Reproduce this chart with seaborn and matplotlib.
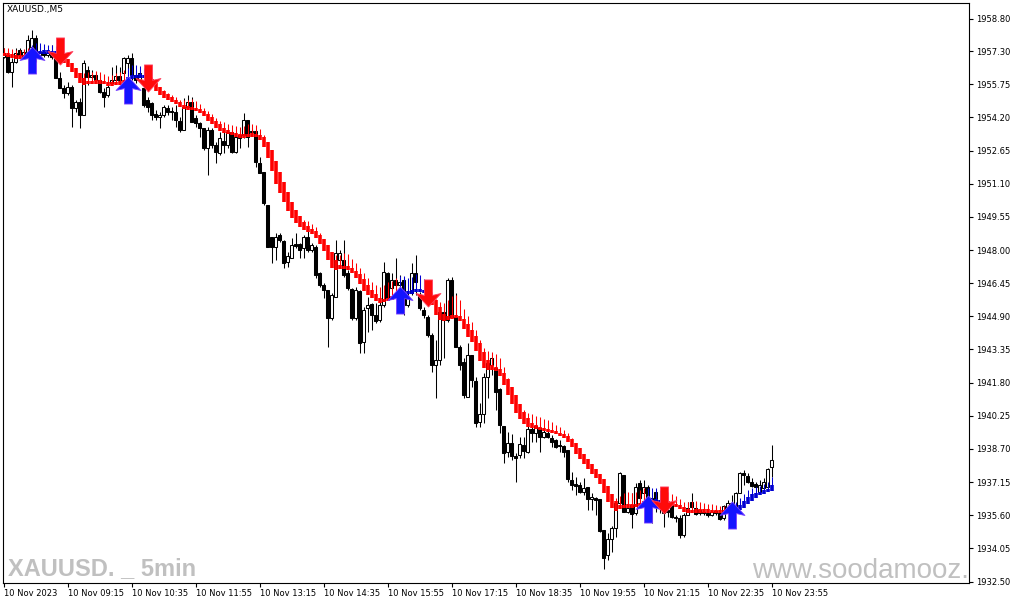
import numpy as np
import pandas as pd
import matplotlib
matplotlib.use('Agg')
import matplotlib.pyplot as plt
import seaborn as sns
from matplotlib.path import Path
from matplotlib.markers import MarkerStyle


# XAUUSD M5 candles, 07:55 .. 23:55 (one value per bar)
opens = [
    1957.02, 1957.12, 1956.32, 1956.79, 1957.35, 1957.02, 1957.26, 1957.49, 1957.91, 1957.12,
    1957.26, 1957.12, 1957.21, 1957.02, 1956.04, 1955.57, 1955.34, 1955.62, 1954.64, 1954.92,
    1954.31, 1956.42, 1956.09, 1956.18, 1955.95, 1955.39, 1955.25, 1955.81, 1955.95, 1956.14,
    1956.28, 1956.74, 1956.98, 1956.18, 1955.95, 1955.57, 1955.01, 1954.87, 1954.36, 1954.22,
    1954.31, 1954.64, 1954.50, 1954.45, 1954.03, 1953.61, 1954.69, 1954.92, 1954.17, 1953.94,
    1953.70, 1952.77, 1953.61, 1952.91, 1952.54, 1953.10, 1952.91, 1953.52, 1952.58, 1953.24,
    1953.38, 1954.08, 1953.52, 1953.57, 1952.07, 1951.65, 1950.10, 1948.61, 1948.14, 1948.70,
    1948.42, 1947.44, 1947.63, 1948.28, 1948.28, 1948.09, 1948.61, 1948.00, 1948.14, 1946.93,
    1946.36, 1946.13, 1944.82, 1945.80, 1947.53, 1947.53, 1946.93, 1946.18, 1944.82, 1946.08,
    1943.70, 1945.29, 1945.48, 1944.96, 1944.73, 1945.43, 1946.93, 1946.22, 1946.60, 1946.36,
    1946.60, 1945.43, 1945.99, 1946.93, 1945.90, 1945.20, 1944.87, 1944.03, 1942.62, 1942.86,
    1945.10, 1944.73, 1946.60, 1944.87, 1943.47, 1942.76, 1941.13, 1943.09, 1941.88, 1939.96,
    1940.33, 1942.06, 1942.62, 1942.48, 1941.50, 1939.77, 1938.56, 1938.98, 1938.37, 1938.42,
    1938.88, 1938.56, 1939.63, 1939.44, 1939.68, 1939.26, 1939.44, 1939.21, 1939.12, 1938.88,
    1938.84, 1938.65, 1937.25, 1937.06, 1937.01, 1936.69, 1936.92, 1936.36, 1936.41, 1936.36,
    1934.91, 1933.74, 1934.49, 1935.00, 1936.17, 1937.48, 1935.75, 1936.08, 1935.70, 1937.11,
    1936.64, 1936.92, 1936.08, 1936.69, 1935.99, 1935.70, 1935.85, 1936.22, 1935.52, 1935.47,
    1934.68, 1935.61, 1936.22, 1935.94, 1935.85, 1935.75, 1935.70, 1935.61, 1935.80, 1935.70,
    1935.47, 1935.99, 1936.17, 1935.99, 1936.64, 1937.58, 1937.44, 1937.15, 1937.06, 1936.69,
    1936.87, 1936.92, 1937.86]
highs = [
    1957.44, 1957.35, 1956.98, 1957.44, 1957.44, 1957.35, 1958.05, 1958.29, 1958.05, 1957.49,
    1957.35, 1957.35, 1957.58, 1957.12, 1956.32, 1955.71, 1955.85, 1955.71, 1955.01, 1955.11,
    1956.88, 1956.60, 1956.42, 1956.32, 1956.18, 1955.57, 1955.85, 1956.56, 1956.65, 1956.56,
    1957.02, 1957.12, 1957.21, 1956.42, 1956.42, 1955.71, 1955.15, 1954.92, 1954.55, 1954.45,
    1954.78, 1954.78, 1954.69, 1954.78, 1954.22, 1955.11, 1955.25, 1955.15, 1954.31, 1953.98,
    1953.70, 1953.75, 1953.70, 1953.05, 1953.52, 1953.52, 1953.70, 1953.61, 1953.47, 1953.52,
    1954.41, 1954.08, 1953.70, 1953.57, 1952.35, 1951.65, 1950.10, 1948.61, 1948.80, 1948.80,
    1948.47, 1947.91, 1948.56, 1948.80, 1948.33, 1948.70, 1949.17, 1948.33, 1948.23, 1946.97,
    1946.46, 1946.13, 1945.99, 1948.47, 1948.00, 1948.47, 1947.07, 1946.22, 1946.27, 1946.13,
    1945.34, 1945.80, 1945.52, 1945.52, 1945.90, 1947.44, 1946.97, 1946.93, 1947.63, 1946.83,
    1946.74, 1946.13, 1947.39, 1947.77, 1946.04, 1945.34, 1944.96, 1944.12, 1943.79, 1945.43,
    1945.43, 1946.69, 1946.74, 1945.99, 1943.56, 1942.95, 1943.65, 1943.09, 1942.06, 1940.85,
    1942.25, 1942.72, 1943.00, 1942.62, 1941.55, 1939.77, 1939.49, 1939.40, 1938.51, 1939.26,
    1939.26, 1940.05, 1939.77, 1939.87, 1939.91, 1939.63, 1939.73, 1939.35, 1939.17, 1939.12,
    1938.88, 1938.65, 1937.62, 1937.39, 1937.15, 1937.34, 1936.92, 1936.64, 1936.45, 1936.36,
    1934.91, 1934.77, 1935.10, 1936.22, 1937.62, 1937.48, 1936.31, 1936.64, 1937.11, 1937.25,
    1937.25, 1937.01, 1936.69, 1936.78, 1936.31, 1936.78, 1935.99, 1936.41, 1935.61, 1935.61,
    1935.70, 1936.22, 1936.64, 1936.17, 1935.99, 1935.94, 1935.94, 1935.94, 1935.94, 1935.75,
    1936.08, 1936.31, 1936.55, 1936.69, 1937.62, 1937.72, 1937.58, 1937.34, 1937.15, 1937.25,
    1937.34, 1937.81, 1938.88]
lows = [
    1956.98, 1956.28, 1955.62, 1956.74, 1957.02, 1956.98, 1957.12, 1957.44, 1956.79, 1957.02,
    1957.02, 1957.02, 1956.93, 1956.04, 1955.57, 1955.11, 1955.25, 1953.75, 1954.45, 1953.70,
    1954.31, 1955.71, 1955.95, 1955.85, 1955.34, 1954.69, 1955.15, 1955.71, 1955.81, 1955.81,
    1956.18, 1955.95, 1955.95, 1955.81, 1955.85, 1954.69, 1954.45, 1954.08, 1954.08, 1953.70,
    1954.22, 1954.31, 1954.08, 1953.75, 1953.52, 1953.61, 1954.64, 1953.98, 1953.75, 1953.28,
    1952.68, 1951.51, 1952.77, 1952.07, 1952.44, 1952.54, 1952.77, 1952.54, 1952.54, 1952.77,
    1953.24, 1952.82, 1953.38, 1951.88, 1951.60, 1950.10, 1948.14, 1947.39, 1947.53, 1948.37,
    1947.16, 1947.21, 1947.63, 1948.09, 1947.63, 1947.63, 1947.91, 1947.91, 1946.69, 1946.27,
    1945.76, 1943.47, 1944.73, 1945.80, 1947.44, 1946.74, 1946.13, 1944.73, 1944.73, 1943.19,
    1943.19, 1944.17, 1944.26, 1944.59, 1944.63, 1945.34, 1945.66, 1946.13, 1946.13, 1945.90,
    1944.96, 1945.34, 1945.90, 1945.90, 1945.20, 1944.82, 1943.93, 1942.30, 1941.08, 1942.62,
    1942.95, 1944.63, 1944.87, 1943.47, 1942.39, 1941.08, 1941.13, 1941.60, 1939.73, 1939.73,
    1939.91, 1941.08, 1942.16, 1940.52, 1939.44, 1938.04, 1938.32, 1938.18, 1937.15, 1938.28,
    1938.28, 1938.51, 1939.02, 1939.02, 1938.56, 1939.21, 1939.21, 1938.79, 1938.74, 1938.56,
    1938.32, 1937.15, 1936.78, 1936.55, 1936.64, 1936.55, 1935.85, 1935.85, 1935.61, 1934.82,
    1933.09, 1933.51, 1933.88, 1934.58, 1936.08, 1935.75, 1935.70, 1935.00, 1935.61, 1935.99,
    1935.99, 1935.85, 1935.24, 1935.75, 1935.70, 1935.05, 1935.52, 1935.47, 1935.28, 1934.54,
    1934.58, 1935.61, 1935.94, 1935.61, 1935.61, 1935.61, 1935.52, 1935.57, 1935.61, 1935.38,
    1935.38, 1935.85, 1935.85, 1935.94, 1936.64, 1937.01, 1937.11, 1936.92, 1936.87, 1936.64,
    1936.64, 1936.92, 1937.39]
closes = [
    1957.21, 1956.32, 1956.79, 1957.21, 1957.12, 1957.26, 1957.82, 1957.91, 1957.12, 1957.26,
    1957.12, 1957.21, 1957.02, 1956.04, 1955.57, 1955.34, 1955.62, 1954.64, 1954.92, 1954.31,
    1956.74, 1956.09, 1956.18, 1955.95, 1955.39, 1955.15, 1955.62, 1955.95, 1956.14, 1955.95,
    1956.98, 1956.98, 1956.18, 1955.95, 1956.28, 1954.78, 1954.69, 1954.31, 1954.22, 1954.31,
    1954.69, 1954.45, 1954.45, 1954.08, 1953.61, 1954.69, 1954.92, 1953.98, 1953.94, 1953.70,
    1952.77, 1953.61, 1952.91, 1952.58, 1953.24, 1952.91, 1953.52, 1952.58, 1953.28, 1953.38,
    1954.08, 1953.28, 1953.57, 1952.11, 1951.60, 1950.20, 1948.14, 1948.14, 1948.61, 1948.47,
    1947.39, 1947.72, 1948.23, 1948.19, 1948.00, 1948.61, 1948.00, 1948.23, 1946.83, 1946.36,
    1946.13, 1944.82, 1945.90, 1947.86, 1947.86, 1946.83, 1946.22, 1944.82, 1946.13, 1943.65,
    1945.20, 1945.43, 1944.96, 1944.68, 1945.43, 1946.97, 1945.76, 1946.60, 1946.36, 1946.50,
    1945.43, 1945.80, 1946.93, 1946.50, 1945.29, 1944.96, 1944.03, 1942.62, 1942.86, 1945.10,
    1944.73, 1946.60, 1944.87, 1943.47, 1942.62, 1941.22, 1943.09, 1941.92, 1939.91, 1940.33,
    1942.06, 1942.72, 1942.95, 1941.36, 1939.82, 1938.51, 1938.98, 1938.37, 1938.28, 1938.93,
    1938.60, 1939.63, 1939.44, 1939.77, 1939.26, 1939.49, 1939.26, 1939.02, 1938.79, 1938.84,
    1938.56, 1937.30, 1937.01, 1936.97, 1936.69, 1936.87, 1936.36, 1936.45, 1936.31, 1934.86,
    1933.60, 1934.49, 1935.00, 1936.17, 1937.58, 1935.75, 1935.94, 1935.66, 1936.92, 1936.41,
    1936.92, 1936.08, 1936.41, 1935.99, 1936.17, 1935.85, 1935.75, 1935.52, 1935.47, 1934.68,
    1935.61, 1935.94, 1935.99, 1935.66, 1935.70, 1935.70, 1935.61, 1935.75, 1935.70, 1935.43,
    1936.03, 1936.17, 1935.99, 1936.64, 1937.58, 1937.48, 1937.15, 1936.97, 1936.92, 1937.01,
    1937.15, 1937.76, 1938.18]

# signal arrows: bar index and price at the arrow centre
up_bars = [7, 31, 99, 161, 182]
up_prices = [1956.88, 1955.48, 1945.64, 1935.87, 1935.59]
down_bars = [14, 36, 106, 165]
down_prices = [1957.30, 1956.02, 1946.01, 1936.31]

x_tick_bars = [0, 16, 32, 48, 64, 80, 96, 112, 128, 144, 160, 176, 192]
x_tick_labels = ['10 Nov 2023', '10 Nov 09:15', '10 Nov 10:35', '10 Nov 11:55',
                 '10 Nov 13:15', '10 Nov 14:35', '10 Nov 15:55', '10 Nov 17:15',
                 '10 Nov 18:35', '10 Nov 19:55', '10 Nov 21:15', '10 Nov 22:35',
                 '10 Nov 23:55']
y_ticks = [1932.50, 1934.05, 1935.60, 1937.15, 1938.70, 1940.25, 1941.80, 1943.35,
           1944.90, 1946.45, 1948.00, 1949.55, 1951.10, 1952.65, 1954.20, 1955.75,
           1957.30, 1958.80]

o = np.array(opens)
h = np.array(highs)
l = np.array(lows)
c = np.array(closes)
n = len(c)
bars = np.arange(n)
h = np.maximum(h, np.maximum(o, c))
l = np.minimum(l, np.minimum(o, c))


# Heiken Ashi Smoothed (SMMA 6, then LWMA 2)
def smma(v, period):
    return pd.Series(v).ewm(alpha=1.0 / period, adjust=False).mean().to_numpy()


def lwma2(v):
    out = v.copy()
    out[1:] = (2 * v[1:] + v[:-1]) / 3
    return out


ma_o, ma_h, ma_l, ma_c = (smma(v, 6) for v in (o, h, l, c))
ha_c = (ma_o + ma_h + ma_l + ma_c) / 4
ha_o = np.empty(n)
ha_o[0] = (ma_o[0] + ma_c[0]) / 2
for i in range(1, n):
    ha_o[i] = (ha_o[i - 1] + ha_c[i - 1]) / 2
ha_h = np.maximum(ma_h, np.maximum(ha_o, ha_c))
ha_o2, ha_c2, ha_h2 = lwma2(ha_o), lwma2(ha_c), lwma2(ha_h)

body_top = np.maximum(ha_o2, ha_c2)
body_bot = np.minimum(ha_o2, ha_c2)
mid = (body_top + body_bot) / 2
small = (body_top - body_bot) < 0.16
body_top = np.where(small, mid + 0.08, body_top)
body_bot = np.where(small, mid - 0.08, body_bot)
wick_top = np.maximum(ha_h2, body_top)

# trend colour follows the signal arrows (blue after a buy arrow, red after a sell arrow)
trend_up = np.zeros(n, dtype=bool)
for b in up_bars:
    nxt = [d for d in down_bars if d > b]
    trend_up[b:nxt[0] if nxt else n] = True
ind_col = np.where(trend_up, '#0000d2', '#ff0000')

sns.set_theme(style='white')
plt.rcParams['font.family'] = ['DejaVu Sans']

fig = plt.figure(figsize=(10.15, 6.05), dpi=100)
ax = fig.add_axes([3 / 1015, 22 / 605, 966 / 1015, 580 / 605])
ax.set_facecolor('white')

# candles
ax.vlines(bars, l, h, colors='black', linewidth=0.75, zorder=2)
body_fill = np.where(c >= o, 'white', 'black')
ax.bar(bars, np.abs(c - o), bottom=np.minimum(o, c), width=0.55, color=body_fill,
       edgecolor='black', linewidth=0.75, zorder=3)

# indicator
ax.vlines(bars, body_top, wick_top, colors=ind_col, linewidth=0.75, zorder=4,
          capstyle='butt')
ax.vlines(bars, body_bot, body_top, colors=ind_col, linewidth=2.6, zorder=5,
          capstyle='butt')

# arrows
up_path = Path([(0, 0.5), (0.46, 0.0), (0.15, 0.07), (0.15, -0.5), (-0.15, -0.5),
                (-0.15, 0.07), (-0.46, 0.0), (0, 0.5)], closed=True)
down_path = Path([(x, -y) for x, y in up_path.vertices], closed=True)
sns.scatterplot(x=up_bars, y=up_prices, marker=MarkerStyle(up_path), s=380,
                color='#1414ff', edgecolor='#7a40ff', linewidth=0.6, ax=ax,
                zorder=7, legend=False)
sns.scatterplot(x=down_bars, y=down_prices, marker=MarkerStyle(down_path), s=380,
                color='#ff0a0a', edgecolor='#ff4060', linewidth=0.6, ax=ax,
                zorder=7, legend=False)

ax.set_xlim(-0.125, 241.375)
ax.set_ylim(1932.433, 1959.548)
ax.set_xlabel('')
ax.set_ylabel('')

ax.set_xticks(x_tick_bars, x_tick_labels, ha='left')
ax.yaxis.tick_right()
ax.set_yticks(y_ticks, [f'{v:.2f}' for v in y_ticks])
ax.tick_params(axis='x', bottom=True, direction='out', length=3, width=0.8,
               pad=1.5, labelsize=6, colors='black')
ax.tick_params(axis='y', right=True, left=False, labelright=True, labelleft=False,
               direction='out', length=3, width=0.8, pad=2, labelsize=6,
               colors='black')
for s in ax.spines.values():
    s.set_color('black')
    s.set_linewidth(0.8)

ax.text(0.004, 0.988, 'XAUUSD.,M5', transform=ax.transAxes, fontsize=6.5,
        ha='left', va='center', color='black')
ax.text(0.005, 0.0138, 'XAUUSD. _ 5min', transform=ax.transAxes, fontsize=17,
        fontweight='bold', ha='left', va='baseline', color='#c0c0c0',
        family=['Liberation Sans', 'DejaVu Sans'], zorder=1)
ax.text((752 - 3) / 966, 0.0086, 'www.soodamooz.com', transform=ax.transAxes,
        fontsize=20, ha='left', va='baseline', color='#c0c0c0',
        family=['Liberation Sans', 'DejaVu Sans'], clip_on=True, zorder=1)

fig.savefig('out.png', dpi=100)
